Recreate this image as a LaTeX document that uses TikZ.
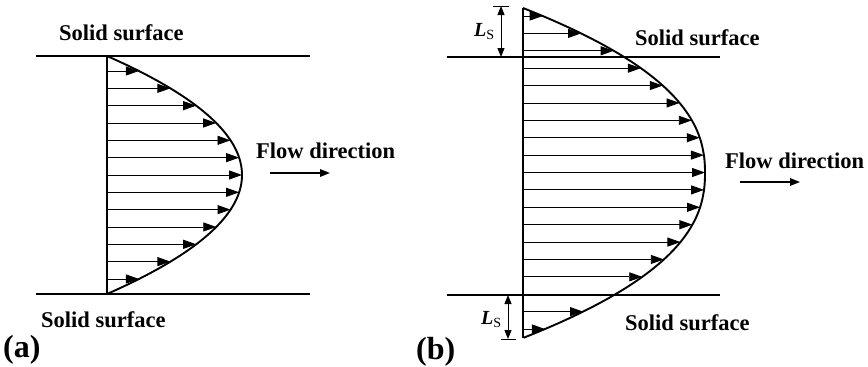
\documentclass[tikz,border=0pt]{standalone}
\usepackage{fontspec}
\setmainfont{Liberation Serif}
\usetikzlibrary{arrows.meta}
\begin{document}
\begin{tikzpicture}[x=1pt,y=-1pt,
  surf/.style={line width=1.9pt},
  prof/.style={line width=1.9pt,line join=round},
  axisline/.style={line width=1.1pt},
  vel/.style={line width=0.9pt,-{Triangle[length=13pt,width=9pt]}},
  flow/.style={line width=1.6pt,-{Triangle[length=10pt,width=7.5pt]}},
  dimarr/.style={line width=1pt,{Triangle[length=9pt,width=7pt]}-{Triangle[length=9pt,width=7pt]}},
  tick/.style={line width=1pt},
  lbl/.style={inner sep=0pt,anchor=base west,font=\fontsize{22.5}{27}\selectfont\bfseries},
  panel/.style={inner sep=0pt,anchor=base west,font=\fontsize{32}{38}\selectfont\bfseries},
  lsl/.style={inner sep=0pt,anchor=base west,font=\fontsize{20}{24}\selectfont}]
\useasboundingbox (0,0) rectangle (868,367);

% ---------- panel (a) ----------
\coordinate (aTL) at (36,56);
\coordinate (aTR) at (310,56);
\coordinate (aBL) at (36,294);
\coordinate (aBR) at (310,294);
\draw[surf] (aTL) -- (aTR);
\draw[surf] (aBL) -- (aBR);
\coordinate (aV1) at (107,56);
\coordinate (aV2) at (107,294);
\draw[axisline] (aV1) -- (aV2);
\draw[prof] plot[domain=-1:1,samples=81,smooth,variable=\t] ({107+135*(1-\t*\t)},{175+119*\t});
\foreach \k in {0,...,12}{
  \pgfmathsetmacro\yy{71+17.33*\k}
  \pgfmathsetmacro\tt{(\yy-175)/119}
  \pgfmathsetmacro\xx{107+135*(1-\tt*\tt)}
  \coordinate (as\k) at (107,\yy);
  \coordinate (ae\k) at (\xx,\yy);
  \draw[vel] (as\k) -- (ae\k);
}
\node[lbl] (aTop) at (59,40) {Solid surface};
\node[lbl] (aBot) at (41,327) {Solid surface};
\node[lbl] (aFlow) at (256,158) {Flow direction};
\coordinate (af1) at (270,173);
\coordinate (af2) at (330,173);
\draw[flow] (af1) -- (af2);
\node[panel] (aLab) at (3,357) {(a)};

% ---------- panel (b) ----------
\coordinate (bTL) at (447,57);
\coordinate (bTR) at (720,57);
\coordinate (bBL) at (447,295);
\coordinate (bBR) at (720,295);
\draw[surf] (bTL) -- (bTR);
\draw[surf] (bBL) -- (bBR);
\coordinate (bV1) at (523,8);
\coordinate (bV2) at (523,338);
\draw[axisline] (bV1) -- (bV2);
\draw[prof] plot[domain=-1:1,samples=100,smooth,variable=\t] ({523+182*(1-abs(\t)^2.3)},{173+165*\t});
\foreach \k in {0,...,18}{
  \ifnum\k=16\relax\else
  \pgfmathsetmacro\yy{16+17.39*\k}
  \pgfmathsetmacro\tt{(\yy-173)/165}
  \pgfmathsetmacro\xx{523+182*(1-abs(\tt)^2.3)}
  \coordinate (bs\k) at (523,\yy);
  \coordinate (be\k) at (\xx,\yy);
  \draw[vel] (bs\k) -- (be\k);
  \fi
}
\node[lbl] (bTop) at (635,45) {Solid surface};
\node[lbl] (bBot) at (625,330) {Solid surface};
\node[lbl] (bFlow) at (725,168) {Flow direction};
\coordinate (bf1) at (740,182);
\coordinate (bf2) at (800,182);
\draw[flow] (bf1) -- (bf2);
\node[panel] (bLab) at (416,359) {(b)};

% slip lengths
\coordinate (t1a) at (493,6);
\coordinate (t1b) at (509,6);
\draw[tick] (t1a) -- (t1b);
\coordinate (d1a) at (501,6);
\coordinate (d1b) at (501,57);
\draw[dimarr] (d1a) -- (d1b);
\node[lsl] (ls1) at (474,36) {\bfseries\itshape L\normalfont\fontsize{14}{16}\selectfont\raisebox{-3pt}{S}};

\coordinate (t2a) at (501,339);
\coordinate (t2b) at (516,339);
\draw[tick] (t2a) -- (t2b);
\coordinate (d2a) at (508,295);
\coordinate (d2b) at (508,339);
\draw[dimarr] (d2a) -- (d2b);
\node[lsl] (ls2) at (481,324) {\bfseries\itshape L\normalfont\fontsize{14}{16}\selectfont\raisebox{-3pt}{S}};
\end{tikzpicture}
\end{document}
